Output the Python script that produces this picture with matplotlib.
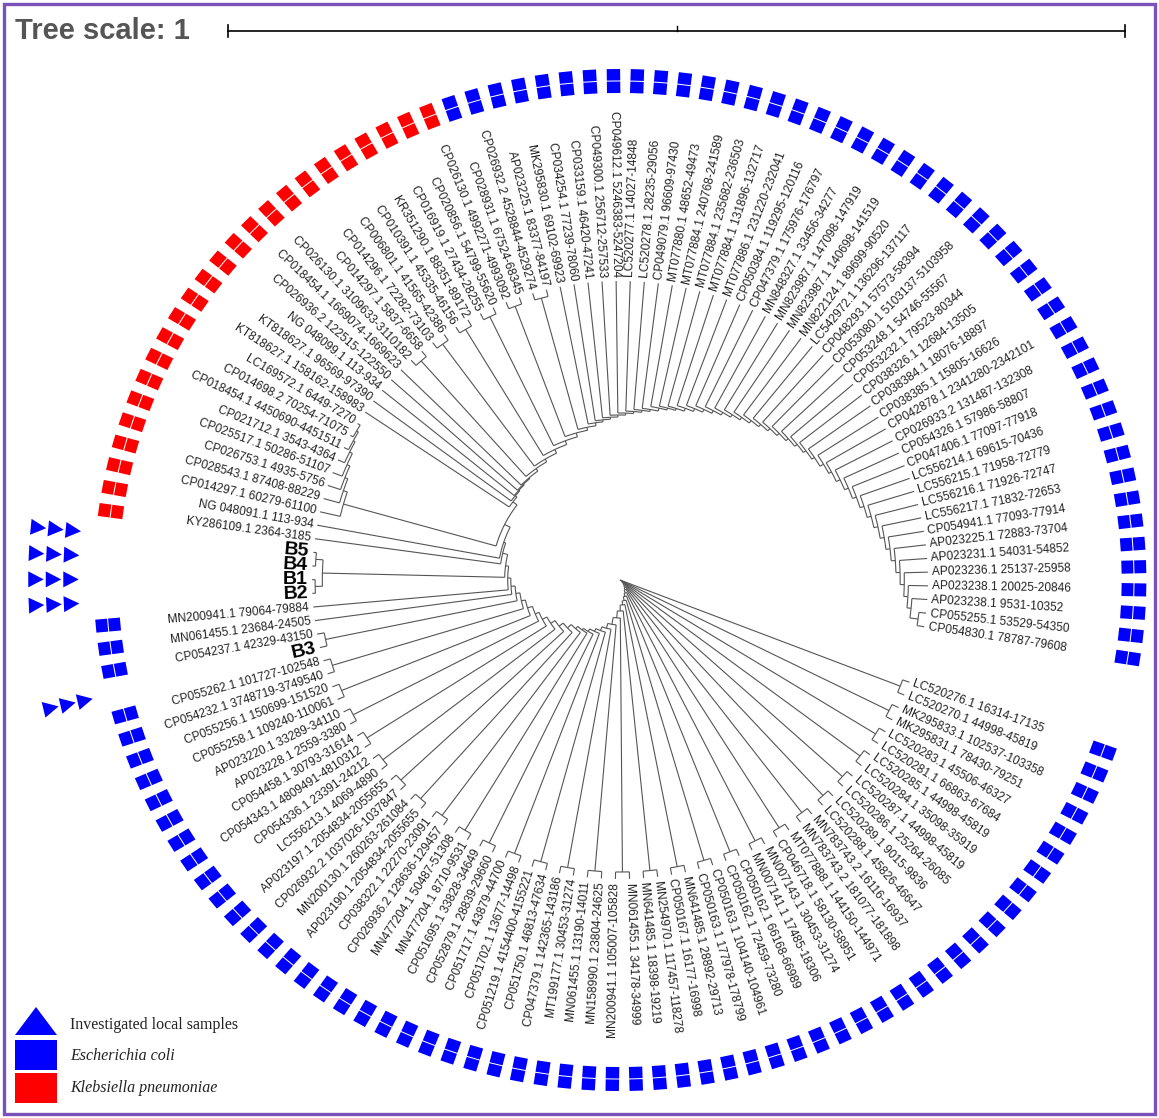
import numpy as np
import matplotlib
matplotlib.use("Agg")
import matplotlib.pyplot as plt
from matplotlib.collections import LineCollection
from matplotlib.patches import Polygon, Rectangle

# leaves, clockwise from the lower right (LC520276) round to CP054830
labels = [
    "LC520276.1 16314-17135", "LC520270.1 44998-45819", "MK295833.1 102537-103358",
    "MK295831.1 78430-79251", "LC520283.1 45506-46327", "LC520281.1 66863-67684",
    "LC520285.1 44998-45819", "LC520284.1 35098-35919", "LC520287.1 44998-45819",
    "LC520286.1 25264-26085", "LC520289.1 9015-9836", "LC520288.1 45826-46647",
    "MN783743.2 16116-16937", "MN783743.2 181077-181898", "MT077888.1 144150-144971",
    "CP046718.1 58130-58951", "MN007143.1 30453-31274", "MN007141.1 17485-18306",
    "CP050162.1 66168-66989", "CP050162.1 72459-73280", "CP050163.1 104140-104961",
    "CP050163.1 177978-178799", "MN641485.1 28892-29713", "CP050167.1 16177-16998",
    "MN254970.1 117457-118278", "MN641485.1 18398-19219", "MN061455.1 34178-34999",
    "MN200941.1 105007-105828", "MN158990.1 23804-24625", "MN061455.1 13190-14011",
    "MT199177.1 30453-31274", "CP047379.1 142365-143186", "CP051750.1 46813-47634",
    "CP051219.1 4154400-4155221", "CP051702.1 13677-14498", "CP051717.1 43879-44700",
    "CP052879.1 28839-29660", "CP051695.1 33828-34649", "MN477204.1 8710-9531",
    "MN477204.1 50487-51308", "CP026936.2 128636-129457", "CP038322.1 22270-23091",
    "AP023190.1 2054834-2055655", "MN200130.1 260263-261084", "CP026932.2 1037026-1037847",
    "AP023197.1 2054834-2055655", "LC556213.1 4069-4890", "CP054336.1 23391-24212",
    "CP054343.1 4809491-4810312", "CP054458.1 30793-31614", "AP023228.1 2559-3380",
    "AP023220.1 33289-34110", "CP055258.1 109240-110061", "CP055256.1 150699-151520",
    "CP054232.1 3748719-3749540", "CP055262.1 101727-102548",
    "B3", "CP054237.1 42329-43150", "MN061455.1 23684-24505", "MN200941.1 79064-79884",
    "B2", "B1", "B4", "B5",
    "KY286109.1 2364-3185", "NG 048091.1 113-934", "CP014297.1 60279-61100",
    "CP028543.1 87408-88229", "CP026753.1 4935-5756", "CP025517.1 50286-51107",
    "CP021712.1 3543-4364", "CP018454.1 4450690-4451511", "CP014698.2 70254-71075",
    "LC169572.1 6449-7270", "KT818627.1 158162-158983", "KT818627.1 96569-97390",
    "NG 048099.1 113-934", "CP026936.2 122515-122550", "CP018454.1 1669074-1669623",
    "CP026130.1 3109633-3110182", "CP014297.1 5837-6658", "CP014296.1 72282-73103",
    "CP006801.1 41565-42386", "CP010391.1 45335-46156", "KR351290.1 88351-89172",
    "CP016919.1 27434-28255", "CP020856.1 54799-55620", "CP026130.1 4992271-4993092",
    "CP028931.1 67524-68345", "CP026932.2 4528844-4529274", "AP023225.1 83377-84197",
    "MK295830.1 69102-69923", "CP034254.1 77239-78060", "CP033159.1 46420-47241",
    "CP049300.1 256712-257533", "CP049612.1 5246383-5247204", "LC520277.1 14027-14848",
    "LC520278.1 28235-29056", "CP049079.1 96609-97430", "MT077880.1 48652-49473",
    "MT077884.1 240768-241589", "MT077884.1 235682-236503", "MT077884.1 131896-132717",
    "MT077886.1 231220-232041", "CP050384.1 119295-120116", "CP047379.1 175976-176797",
    "MN848327.1 33456-34277", "MN823987.1 147098-147919", "MN823987.1 140698-141519",
    "MN822124.1 89699-90520", "LC542972.1 136296-137117", "CP048293.1 57573-58394",
    "CP053080.1 5103137-5103958", "CP053248.1 54746-55567", "CP053232.1 79523-80344",
    "CP038326.1 12684-13505", "CP038384.1 18076-18897", "CP038385.1 15805-16626",
    "CP042878.1 2341280-2342101", "CP026933.2 131487-132308", "CP054326.1 57986-58807",
    "CP047406.1 77097-77918", "LC556214.1 69615-70436", "LC556215.1 71958-72779",
    "LC556216.1 71926-72747", "LC556217.1 71832-72653", "CP054941.1 77093-77914",
    "AP023225.1 72883-73704", "AP023231.1 54031-54852", "AP023236.1 25137-25958",
    "AP023238.1 20025-20846", "AP023238.1 9531-10352", "CP055255.1 53529-54350",
    "CP054830.1 78787-79608",
]

# E = Escherichia coli, K = Klebsiella pneumoniae, L = investigated local sample
species = (["E"] * 56 + ["L", "E", "E", "E"] + ["L"] * 4
           + ["K"] * 24 + ["E"] * 46)

# clades hanging off the main stem, in leaf order (number of leaves each)
clade_sizes = ([2] * 28 + [2, 1, 1, 4, 1, 1, 8, 1, 1, 1, 1, 1, 2, 2, 2, 2, 2, 2]
               + [1] * 41 + [2])

# depth of each stem node (px from root; tree scale bar = 897 px)
spine_depth = [0, 1, 2, 3, 5, 7, 9, 11, 14, 17, 21, 25, 31, 38, 45, 50, 54, 57,
               60, 62, 65, 70, 75, 80, 85, 89, 94, 98,
               102, 106, 109, 112, 117, 119, 125, 130, 132, 133, 134, 135,
               138, 141, 145, 149, 153, 156,
               159, 161, 163, 165, 167, 169, 171, 173, 176, 178, 180, 183, 186,
               189, 192, 195, 198, 201, 204, 207, 210, 213, 216, 219, 222, 225,
               229, 232, 236, 240, 244, 248, 252, 256, 260, 264, 268, 272, 276,
               280, 284]
ladder_depth = [279, 283, 286, 289, 292, 294, 296]

CX, CY = 620, 580
SX = 1.03
R_TIP = 299
TH0, DTH = -20.0, 2.624
LINE = "#555555"
BLUE, RED = "#0000ff", "#ff0000"

leaf_th = TH0 - DTH * np.arange(len(labels))


def xy(r, th):
    t = np.radians(th)
    return CX + SX * r * np.cos(t), CY - r * np.sin(t)


# build nested tree
clades = []
i = 0
for n in clade_sizes:
    ids = list(range(i, i + n))
    if n == 1:
        clades.append(ids[0])
    elif n == 2:
        clades.append((ids, R_TIP - 7))
    elif n == 4:
        clades.append(([(ids[:2], R_TIP - 3), (ids[2:], R_TIP - 3)], R_TIP - 10))
    else:
        node = (ids[-2:], ladder_depth[-1])
        for j, d in zip(ids[-3::-1], ladder_depth[-2::-1]):
            node = ([j, node], d)
        clades.append(node)
    i += n

tree = clades[-1]
for c, d in zip(clades[-2::-1], spine_depth[::-1]):
    tree = ([c, tree], d)

segs = []


def draw(node):
    if isinstance(node, (int, np.integer)):
        return leaf_th[node], R_TIP
    kids, d = node
    res = [draw(k) for k in kids]
    ths = [t for t, _ in res]
    for t, cd in res:
        segs.append([xy(d, t), xy(cd, t)])
    lo, hi = min(ths), max(ths)
    arc = np.linspace(lo, hi, int((hi - lo) * 2) + 2)
    x, y = xy(d, arc)
    segs.append(np.column_stack([x, y]))
    return (lo + hi) / 2, d


draw(tree)

fig = plt.figure(figsize=(11.59, 11.18), dpi=100)
ax = fig.add_axes([0, 0, 1, 1])
ax.set_xlim(0, 1159)
ax.set_ylim(1118, 0)
ax.axis("off")

ax.add_collection(LineCollection(segs, colors=LINE, linewidths=0.8))

# leaf labels
for i, lab in enumerate(labels):
    th = leaf_th[i]
    t = np.radians(th)
    disp = np.degrees(np.arctan2(np.sin(t), SX * np.cos(t)))
    if -90 < disp <= 90:
        rot, ha = disp, "left"
    else:
        rot, ha = (disp - 180 if disp > 0 else disp + 180), "right"
    x, y = xy(R_TIP + 4, th)
    if lab.startswith("B") and len(lab) == 2:
        ax.text(x, y, lab, rotation=rot, ha=ha, va="center", rotation_mode="anchor",
                fontsize=14, fontweight="bold", family="Liberation Sans", color="black")
    else:
        ax.text(x, y, lab, rotation=rot, ha=ha, va="center", rotation_mode="anchor",
                fontsize=8.6, family="Liberation Sans", color="#222222")


def quad(r0, r1, th, hw):
    t = np.radians(th)
    u = np.array([np.cos(t), np.sin(t)])
    v = np.array([-np.sin(t), np.cos(t)])
    pts = [r0 * u - hw * v, r1 * u - hw * v, r1 * u + hw * v, r0 * u + hw * v]
    return [(CX + SX * p[0], CY - p[1]) for p in pts]


def tri(rc, th, h, hw):
    t = np.radians(th)
    u = np.array([np.cos(t), np.sin(t)])
    v = np.array([-np.sin(t), np.cos(t)])
    pts = [(rc - h / 2) * u, (rc + h / 2) * u - hw * v, (rc + h / 2) * u + hw * v]
    return [(CX + SX * p[0], CY - p[1]) for p in pts]


# outer ring of annotations
for i, sp in enumerate(species):
    th = leaf_th[i]
    if sp == "L":
        for rc in (533, 550, 567):
            ax.add_patch(Polygon(tri(rc, th, 15, 8), closed=True, fc=BLUE, ec="none"))
    else:
        col = RED if sp == "K" else BLUE
        ax.add_patch(Polygon(quad(487, 498.5, th, 6.5), closed=True, fc=col, ec="none"))
        ax.add_patch(Polygon(quad(499.5, 511, th, 6.5), closed=True, fc=col, ec="none"))

# tree scale
ax.text(15, 31, "Tree scale: 1", ha="left", va="center", fontsize=21,
        fontweight="bold", color="#555555", family="Liberation Sans")
ax.plot([228, 1125], [31, 31], color="black", lw=1.2)
ax.plot([228, 228], [25, 37], color="black", lw=1.2)
ax.plot([1125, 1125], [25, 37], color="black", lw=1.2)
ax.plot([677, 677], [26, 31], color="black", lw=1.0)

# legend
ax.add_patch(Polygon([(15, 1035), (57, 1035), (36, 1007)], closed=True, fc=BLUE, ec="none"))
ax.add_patch(Rectangle((15, 1040), 42, 30, fc=BLUE, ec="none"))
ax.add_patch(Rectangle((15, 1073), 42, 30, fc=RED, ec="none"))
ax.text(70, 1025, "Investigated local samples", va="center", fontsize=11.5,
        family="Liberation Serif", color="#222222")
ax.text(70, 1056, "Escherichia coli", va="center", fontsize=11.5, style="italic",
        family="Liberation Serif", color="#222222")
ax.text(70, 1088, "Klebsiella pneumoniae", va="center", fontsize=11.5, style="italic",
        family="Liberation Serif", color="#222222")

# frame
ax.add_patch(Rectangle((4, 4), 1151, 1110, fill=False, ec="#7b52b9", lw=2.4))

fig.savefig("out.png", dpi=100)
